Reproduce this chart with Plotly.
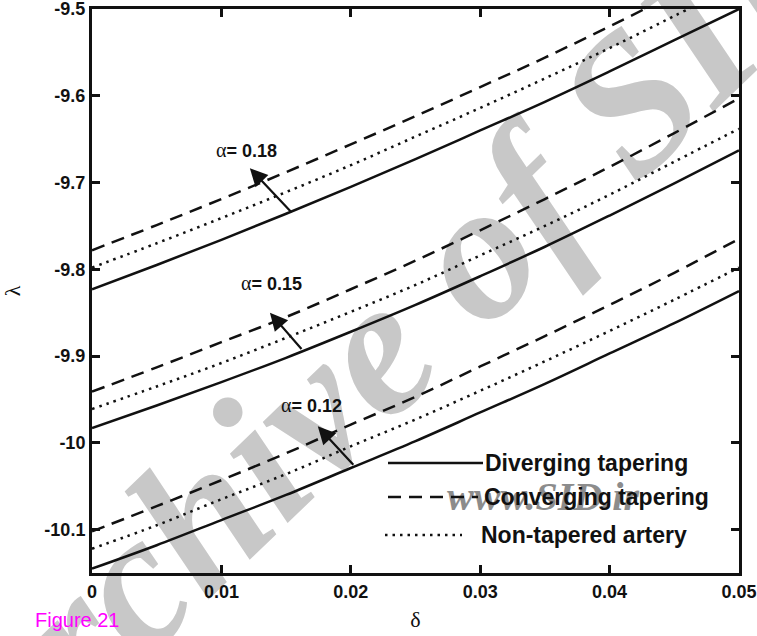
import math
import plotly.graph_objects as go

# ---- data -------------------------------------------------------------
delta = [0.0, 0.005, 0.01, 0.015, 0.02, 0.025, 0.03, 0.035, 0.04, 0.045, 0.05]

# alpha = 0.18
lam_div_018 = [-9.823, -9.795, -9.766, -9.736, -9.705, -9.673, -9.640, -9.607, -9.572, -9.536, -9.500]
lam_conv_018 = [-9.778, -9.749, -9.719, -9.688, -9.656, -9.6235, -9.590, -9.556, -9.520, -9.483, -9.446]
lam_non_018 = [-9.798, -9.770, -9.741, -9.711, -9.680, -9.647, -9.614, -9.580, -9.545, -9.508, -9.471]

# alpha = 0.15
lam_div_015 = [-9.983, -9.957, -9.930, -9.902, -9.872, -9.841, -9.808, -9.774, -9.738, -9.701, -9.663]
lam_conv_015 = [-9.941, -9.913, -9.884, -9.855, -9.823, -9.790, -9.755, -9.719, -9.682, -9.643, -9.603]
lam_non_015 = [-9.961, -9.935, -9.908, -9.879, -9.849, -9.818, -9.784, -9.750, -9.714, -9.676, -9.638]

# alpha = 0.12
lam_div_012 = [-10.145, -10.118, -10.089, -10.060, -10.029, -9.998, -9.965, -9.932, -9.897, -9.862, -9.825]
lam_conv_012 = [-10.102, -10.073, -10.043, -10.012, -9.979, -9.947, -9.912, -9.877, -9.841, -9.804, -9.765]
lam_non_012 = [-10.122, -10.095, -10.065, -10.036, -10.004, -9.973, -9.940, -9.906, -9.871, -9.835, -9.798]

x_ticks = [0.0, 0.01, 0.02, 0.03, 0.04, 0.05]
x_tick_text = ["0", "0.01", "0.02", "0.03", "0.04", "0.05"]
y_ticks = [-10.1, -10.0, -9.9, -9.8, -9.7, -9.6, -9.5]
y_tick_text = ["-10.1", "-10", "-9.9", "-9.8", "-9.7", "-9.6", "-9.5"]

legend_names = ["Diverging tapering", "Converging tapering", "Non-tapered artery"]

alpha_labels = ["0.18", "0.15", "0.12"]
alpha_label_x = [0.01197, 0.0139, 0.01699]
alpha_label_y = [-9.663, -9.8153, -9.9562]
arrow_tail_x = [0.01552, 0.01629, 0.0203]
arrow_tail_y = [-9.736, -9.8935, -10.027]
arrow_head_x = [0.0122, 0.01375, 0.01745]
arrow_head_y = [-9.6836, -9.850, -9.981]

# ---- layout geometry (pixels) -----------------------------------------
W, H = 757, 636
ML, MR, MT, MB = 92, 18, 9, 63
PW, PH = W - ML - MR, H - MT - MB


def px_x(px):
    return (px - ML) / PW


def px_y(py):
    return (H - MB - py) / PH


DASH = {"solid": "solid", "dash": "13px,8px", "dot": "2.5px,5px"}
SANS = "Liberation Sans, Arial, Helvetica, sans-serif"
SERIF = "Liberation Serif, Times New Roman, serif"
INK = "#111111"

fig = go.Figure()

groups = [
    (lam_div_018, lam_conv_018, lam_non_018),
    (lam_div_015, lam_conv_015, lam_non_015),
    (lam_div_012, lam_conv_012, lam_non_012),
]
for a, grp in zip(alpha_labels, groups):
    for name, ys, d in zip(legend_names, grp, ["solid", "dash", "dot"]):
        fig.add_trace(go.Scatter(
            x=delta, y=ys, mode="lines", name=name,
            legendgroup=name, showlegend=False,
            line=dict(color=INK, width=2.5, dash=DASH[d], shape="spline"),
            hovertemplate="α=" + a + "<br>δ=%{x}<br>λ=%{y}<extra>" + name + "</extra>",
        ))

# ---- background watermark (drawn under the curves) --------------------
shapes = []


def text_shape(cx, cy, angle_deg, text, size, color, length=200):
    r = math.radians(angle_deg)
    dx, dy = length / 2 * math.cos(r), length / 2 * math.sin(r)
    return dict(
        type="line", xref="paper", yref="paper", layer="below",
        x0=px_x(cx - dx), y0=px_y(cy + dy), x1=px_x(cx + dx), y1=px_y(cy - dy),
        line=dict(width=0, color="rgba(0,0,0,0)"),
        label=dict(text=text, textangle=-angle_deg, textposition="middle",
                   xanchor="center", yanchor="middle",
                   font=dict(family=SERIF, size=size, color=color)),
    )


shapes.append(text_shape(372, 320, 44, "<b><i>Archive of SID</i></b>", 196, "#c8c8c8"))
shapes.append(text_shape(543, 492, 0, "<b><i>www.SID.ir</i></b>", 40, "#8c8c8c"))

# ---- hand-drawn legend ------------------------------------------------
legend_rows = [
    (388, 483, 463, "solid", 483),
    (388, 478, 497, "dash", 482),
    (385, 462, 535, "dot", 479),
]
annotations = []
for (xa, xb, yy, d, tx), name in zip(legend_rows, legend_names):
    shapes.append(dict(
        type="line", xref="paper", yref="paper", layer="above",
        x0=px_x(xa), x1=px_x(xb), y0=px_y(yy), y1=px_y(yy),
        line=dict(color=INK, width=2.5, dash=DASH[d]),
    ))
    annotations.append(dict(
        xref="paper", yref="paper", x=px_x(tx), y=px_y(yy),
        xanchor="left", yanchor="middle", showarrow=False,
        text="<b>" + name + "</b>",
        font=dict(family=SANS, size=23, color=INK),
    ))

# ---- alpha labels with arrows -----------------------------------------
for a, lx, ly, tx, ty, hx, hy in zip(alpha_labels, alpha_label_x, alpha_label_y,
                                      arrow_tail_x, arrow_tail_y,
                                      arrow_head_x, arrow_head_y):
    annotations.append(dict(
        xref="x", yref="y", x=lx, y=ly, showarrow=False,
        xanchor="center", yanchor="middle",
        text="<span style=\"font-family:Liberation Serif;font-size:20px\">α</span><b>= " + a + "</b>",
        font=dict(family=SANS, size=18, color=INK),
    ))
    annotations.append(dict(
        xref="x", yref="y", axref="x", ayref="y",
        x=hx, y=hy, ax=tx, ay=ty, text="", showarrow=True,
        arrowhead=2, arrowsize=1.6, arrowwidth=2.2, arrowcolor=INK,
    ))

annotations.append(dict(
    xref="paper", yref="paper", x=px_x(33), y=px_y(620),
    xanchor="left", yanchor="middle", showarrow=False,
    text="Figure 21", font=dict(family=SANS, size=20, color="#ff00ff"),
))

axis_common = dict(
    showline=True, linewidth=3, linecolor=INK, mirror="ticks",
    ticks="inside", ticklen=8, tickwidth=2.5, tickcolor=INK,
    showgrid=False, zeroline=False, automargin=False,
    ticklabeloverflow="allow",
    tickfont=dict(family=SANS, size=18, color=INK, weight="bold"),
)

fig.update_layout(
    width=W, height=H,
    margin=dict(l=ML, r=MR, t=MT, b=MB, pad=0),
    paper_bgcolor="white", plot_bgcolor="white",
    showlegend=False,
    xaxis=dict(range=[0, 0.05], tickvals=x_ticks, ticktext=x_tick_text,
               title=dict(text="δ", font=dict(family=SERIF, size=22, color=INK),
                          standoff=12),
               **axis_common),
    yaxis=dict(range=[-10.15, -9.5], tickvals=y_ticks, ticktext=y_tick_text,
               title=dict(text="λ", font=dict(family=SERIF, size=22, color=INK),
                          standoff=20),
               **axis_common),
    shapes=shapes,
    annotations=annotations,
)

fig.write_html("out.html")
